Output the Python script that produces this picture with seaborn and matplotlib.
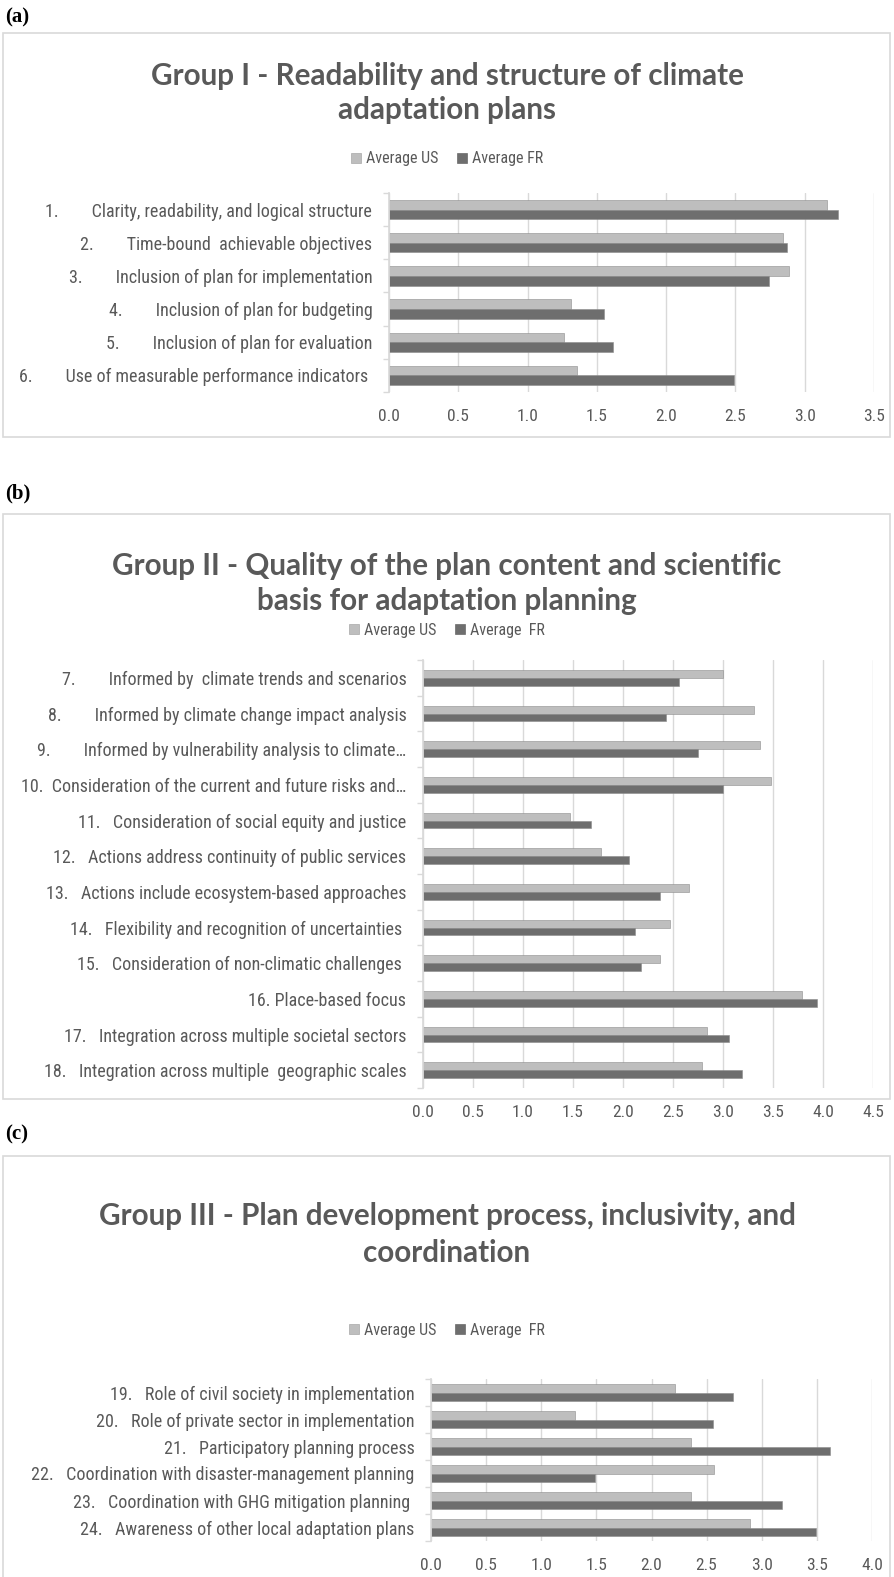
import matplotlib
matplotlib.use("Agg")
import matplotlib.pyplot as plt
import matplotlib.patches as mpatches
from matplotlib import font_manager
import numpy as np
import pandas as pd
import seaborn as sns

W, H = 894, 1577

# ---------------- data ----------------
labels_a = [
    "1.        Clarity, readability, and logical structure",
    "2.        Time-bound  achievable objectives",
    "3.        Inclusion of plan for implementation",
    "4.        Inclusion of plan for budgeting",
    "5.        Inclusion of plan for evaluation",
    "6.        Use of measurable performance indicators ",
]
us_a = [3.16, 2.84, 2.89, 1.31, 1.26, 1.36]
fr_a = [3.24, 2.87, 2.74, 1.55, 1.62, 2.49]

labels_b = [
    "7.        Informed by  climate trends and scenarios",
    "8.        Informed by climate change impact analysis",
    "9.        Informed by vulnerability analysis to climate…",
    "10.  Consideration of the current and future risks and…",
    "11.   Consideration of social equity and justice",
    "12.   Actions address continuity of public services",
    "13.   Actions include ecosystem-based approaches",
    "14.   Flexibility and recognition of uncertainties ",
    "15.   Consideration of non-climatic challenges ",
    "16. Place-based focus",
    "17.   Integration across multiple societal sectors",
    "18.   Integration across multiple  geographic scales",
]
us_b = [3.00, 3.31, 3.37, 3.48, 1.47, 1.78, 2.66, 2.47, 2.37, 3.79, 2.84, 2.79]
fr_b = [2.56, 2.43, 2.75, 3.00, 1.68, 2.06, 2.37, 2.12, 2.18, 3.94, 3.06, 3.19]

labels_c = [
    "19.   Role of civil society in implementation",
    "20.   Role of private sector in implementation",
    "21.   Participatory planning process",
    "22.   Coordination with disaster-management planning",
    "23.   Coordination with GHG mitigation planning ",
    "24.   Awareness of other local adaptation plans",
]
us_c = [2.21, 1.31, 2.36, 2.57, 2.36, 2.89]
fr_c = [2.74, 2.56, 3.62, 1.49, 3.18, 3.49]

# ---------------- style ----------------
sns.set_theme(style="white")

# narrow font for the labels if one is installed, else a compact sans
installed = {f.name for f in font_manager.fontManager.ttflist}
narrow = None
for name in ["Roboto Condensed", "Liberation Sans Narrow", "Open Sans Condensed",
             "DejaVu Sans Condensed", "Noto Sans Display"]:
    if name in installed:
        narrow = name
        break
print("narrow font:", narrow)
if narrow:
    plt.rcParams["font.family"] = [narrow, "DejaVu Sans"]
    LABEL_SIZE = 13
    TICK_SIZE = 12.5
    LEGEND_SIZE = 11.5
else:
    plt.rcParams["font.family"] = ["Roboto", "DejaVu Sans"]
    LABEL_SIZE = 10.5
    TICK_SIZE = 10.5
    LEGEND_SIZE = 10

US_COLOR = "#BEBEBE"
FR_COLOR = "#6E6E6E"
TEXT = "#595959"
GRID = "#D9D9D9"

fig = plt.figure(figsize=(W / 100, H / 100), dpi=100)


def fx(px):
    return px / W


def fy(py):
    return 1 - py / H


def panel(tag, tag_y, box_top, box_bottom, titles, title_y, legend_y,
          ax_px, labels, us, fr, xmax, width, fr_name):
    # panel letter
    fig.text(fx(5), fy(tag_y), tag, family="Liberation Serif",
             weight="bold", fontsize=15, va="center", ha="left", color="black")

    # chart border
    fig.patches.append(mpatches.Rectangle(
        (fx(3), fy(box_bottom)), fx(887), (box_bottom - box_top) / H,
        transform=fig.transFigure, fill=False, edgecolor=GRID, lw=1.2))

    # title
    for line, yy in zip(titles, title_y):
        fig.text(fx(447), fy(yy), line, family="Lato", weight="bold",
                 fontsize=21.3, color=TEXT, ha="center", va="center")

    x0, x1, y0, y1 = ax_px
    ax = fig.add_axes([fx(x0), fy(y1), (x1 - x0) / W, (y1 - y0) / H])

    df = pd.DataFrame({
        "item": labels * 2,
        "score": us + fr,
        "series": ["Average US"] * len(labels) + [fr_name] * len(labels),
    })
    sns.barplot(data=df, x="score", y="item", hue="series", orient="h",
                palette=[US_COLOR, FR_COLOR], width=width, ax=ax,
                legend=False, edgecolor="#8C8C8C", linewidth=0.4)

    n = len(labels)
    ax.set_xlim(0, xmax)
    ax.set_ylim(n - 0.5, -0.5)
    ticks = np.arange(0, xmax + 0.01, 0.5)
    ax.set_xticks(ticks)
    ax.set_xticklabels([f"{t:.1f}" for t in ticks])
    ax.set_yticks(np.arange(-0.5, n, 1), minor=True)
    ax.xaxis.grid(True, color=GRID, lw=1)
    ax.set_axisbelow(True)
    ax.set_xlabel("")
    ax.set_ylabel("")
    for s in ["top", "right", "bottom"]:
        ax.spines[s].set_visible(False)
    ax.spines["left"].set_color(GRID)
    ax.tick_params(axis="x", length=0, pad=12, labelsize=TICK_SIZE, labelcolor=TEXT)
    ax.tick_params(axis="y", which="major", length=0, pad=12,
                   labelsize=LABEL_SIZE, labelcolor=TEXT)
    ax.tick_params(axis="y", which="minor", left=True, length=4, color=GRID)

    handles = [mpatches.Patch(facecolor=US_COLOR, edgecolor="#9A9A9A", lw=0.4,
                              label="Average US"),
               mpatches.Patch(facecolor=FR_COLOR, edgecolor="#555555", lw=0.4,
                              label=fr_name)]
    fig.legend(handles=handles, loc="center", ncol=2, frameon=False,
               bbox_to_anchor=(fx(447), fy(legend_y)), fontsize=LEGEND_SIZE,
               labelcolor=TEXT, handlelength=0.6, handleheight=0.6,
               handletextpad=0.3, columnspacing=1.2)
    return ax


panel("(a)", 17, 33, 437,
      ["Group I - Readability and structure of climate", "adaptation plans"],
      [76, 110], 159, (389, 874, 193, 392),
      labels_a, us_a, fr_a, 3.5, 0.58, "Average FR")

panel("(b)", 493, 514, 1099,
      ["Group II - Quality of the plan content and scientific",
       "basis for adaptation planning"],
      [566, 601], 630, (423, 873, 660, 1088),
      labels_b, us_b, fr_b, 4.5, 0.44, "Average  FR")

panel("(c)", 1134, 1156, 1590,
      ["Group III - Plan development process, inclusivity, and",
       "coordination"],
      [1216, 1253], 1330, (431, 872, 1379, 1541),
      labels_c, us_c, fr_c, 4.0, 0.66, "Average  FR")

fig.savefig("out.png", dpi=100, facecolor="white")
